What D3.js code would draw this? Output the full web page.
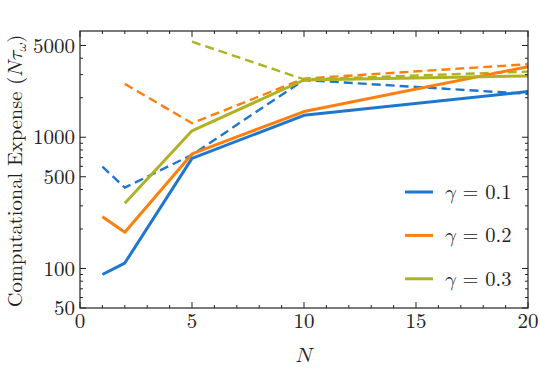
<!DOCTYPE html>
<html lang="en">
<head>
<meta charset="UTF-8">
<title>Computational Expense</title>
<script src="https://d3js.org/d3.v7.min.js"></script>
<style>
  body { margin: 0; background: #fff; }
</style>
</head>
<body>
<div id="chart"></div>
<script>
// data
var nValues = [1, 2, 5, 10, 20];
var gammas = ['0.1', '0.2', '0.3'];
var colors = ['#1e76cf', '#ff7f0e', '#afb224'];
// solid lines
var solid01 = [90, 110, 690, 1470, 2230];
var solid02 = [248, 189, 746, 1570, 3450];
var solid03 = [null, 314, 1120, 2730, 2930];
// dashed lines
var dashed01 = [597, 413, 735, 2730, 2140];
var dashed02 = [null, 2550, 1280, 2800, 3600];
var dashed03 = [null, null, 5350, 2760, 3160];

var yMajor = [50, 100, 500, 1000, 5000];
var yMinor = [60, 70, 80, 90, 200, 300, 400, 600, 700, 800, 900, 2000, 3000, 4000];
var xMajor = [0, 5, 10, 15, 20];

var FONT = "'Latin Modern Roman'";
var MATH = "'Latin Modern Math'";

var W = 540, H = 373;
var m = {top: 31, left: 80, right: 12, bottom: 65};

var svg = d3.select('#chart').append('svg')
    .attr('width', W).attr('height', H);

var x = d3.scaleLinear().domain([0, 20]).range([m.left, W - m.right]);
var y = d3.scaleLog().domain([50, 6450]).range([H - m.bottom, m.top]);

var solids = [solid01, solid02, solid03];
var dashes = [dashed01, dashed02, dashed03];

var line = d3.line()
    .defined(function(d){ return d.v != null; })
    .x(function(d){ return x(d.n); })
    .y(function(d){ return y(d.v); });

function pts(arr){
    return nValues.map(function(n, i){ return {n: n, v: arr[i]}; });
}

var plot = svg.append('g');
dashes.forEach(function(arr, i){
    plot.append('path')
        .attr('d', line(pts(arr)))
        .attr('fill', 'none')
        .attr('stroke', colors[i])
        .attr('stroke-width', 2.4)
        .attr('stroke-dasharray', '9,5');
});
solids.forEach(function(arr, i){
    plot.append('path')
        .attr('d', line(pts(arr)))
        .attr('fill', 'none')
        .attr('stroke', colors[i])
        .attr('stroke-width', 3)
        .attr('stroke-linejoin', 'round');
});

// frame with inward ticks
var axes = svg.append('g').attr('stroke', '#222').attr('fill', 'none');
axes.append('rect')
    .attr('x', x(0)).attr('y', y.range()[1])
    .attr('width', x(20) - x(0)).attr('height', y.range()[0] - y.range()[1])
    .attr('stroke-width', 1.2);

var xMinor = d3.range(1, 20).filter(function(v){ return v % 5 !== 0; });
function xTicks(vals, len){
    vals.forEach(function(v){
        axes.append('line').attr('x1', x(v)).attr('x2', x(v))
            .attr('y1', y.range()[0]).attr('y2', y.range()[0] - len);
        axes.append('line').attr('x1', x(v)).attr('x2', x(v))
            .attr('y1', y.range()[1]).attr('y2', y.range()[1] + len);
    });
}
function yTicks(vals, len){
    vals.forEach(function(v){
        axes.append('line').attr('y1', y(v)).attr('y2', y(v))
            .attr('x1', x(0)).attr('x2', x(0) + len);
        axes.append('line').attr('y1', y(v)).attr('y2', y(v))
            .attr('x1', x(20)).attr('x2', x(20) - len);
    });
}
xTicks(xMajor, 6);
xTicks(xMinor, 3);
yTicks(yMajor, 6);
yTicks(yMinor, 3);

function txt(sel){
    return sel.style('font-family', FONT).attr('fill', '#222');
}

txt(svg.append('g').selectAll('text').data(xMajor).enter().append('text'))
    .attr('x', function(d){ return x(d); })
    .attr('y', y.range()[0] + 20)
    .attr('text-anchor', 'middle')
    .style('font-size', '21px')
    .text(function(d){ return d; });

txt(svg.append('g').selectAll('text').data(yMajor).enter().append('text'))
    .attr('x', x(0) - 5)
    .attr('y', function(d){ return y(d); })
    .attr('dy', '0.34em')
    .attr('text-anchor', 'end')
    .style('font-size', '21px')
    .text(function(d){ return d; });

// axis labels
txt(svg.append('text'))
    .attr('x', (x(0) + x(20)) / 2)
    .attr('y', 362)
    .attr('text-anchor', 'middle')
    .style('font-family', MATH)
    .style('font-size', '21px')
    .text('\uD835\uDC41');

var yl = txt(svg.append('text'))
    .attr('transform', 'translate(22,' + 171 + ') rotate(-90)')
    .attr('text-anchor', 'middle')
    .style('font-size', '20.5px');
yl.append('tspan').text('Computational Expense (');
yl.append('tspan').style('font-family', MATH).text('\uD835\uDC41\uD835\uDF0F');
yl.append('tspan').style('font-family', MATH).style('font-size', '14px').attr('dy', 4).text('\uD835\uDF14');
yl.append('tspan').attr('dy', -4).text(')');

// legend
var leg = svg.append('g');
gammas.forEach(function(g, i){
    var ly = 192 + i * 43.4;
    leg.append('line')
        .attr('x1', 405).attr('x2', 433)
        .attr('y1', ly).attr('y2', ly)
        .attr('stroke', colors[i]).attr('stroke-width', 3);
    var t = txt(leg.append('text'))
        .attr('x', 445).attr('y', ly + 7)
        .style('font-size', '20.5px');
    t.append('tspan').style('font-family', MATH).text('\uD835\uDEFE');
    t.append('tspan').text(' = ' + g);
});
</script>
</body>
</html>
